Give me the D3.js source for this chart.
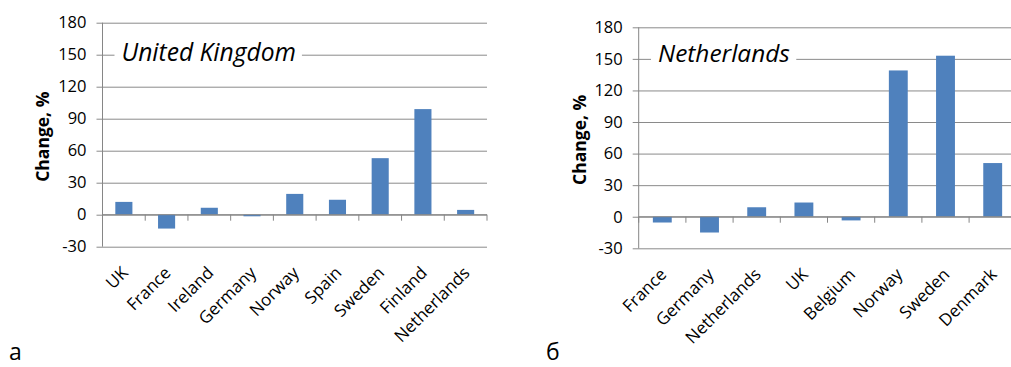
<!DOCTYPE html>
<html>
<head>
<meta charset="utf-8">
<script src="https://cdn.jsdelivr.net/npm/d3@7"></script>
<style>
  html, body { margin: 0; padding: 0; background: #fff; }
  svg { display: block; font-family: "Open Sans", sans-serif; }
</style>
</head>
<body>
<svg id="fig" width="1011" height="367"></svg>
<script>
// Panel a: change by country, United Kingdom
const ukCountries = ["UK", "France", "Ireland", "Germany", "Norway", "Spain", "Sweden", "Finland", "Netherlands"];
const ukChange = [12, -13, 6.5, -1.5, 19.5, 14, 53, 99, 4.5];

// Panel б: change by country, Netherlands
const nlCountries = ["France", "Germany", "Netherlands", "UK", "Belgium", "Norway", "Sweden", "Denmark"];
const nlChange = [-5.5, -15, 9, 13.5, -3.5, 139, 153, 51];

const yTicks = [-30, 0, 30, 60, 90, 120, 150, 180];

const svg = d3.select("#fig");
const GRID = "#8a8a8a";
const AXIS = "#868686";
const BAR = "#4f81bd";

function panel(opts) {
  const { categories, values, left, width, top, bottom, title, titleX, titleBaseline, titleSize, letter, letterX, axisTitleX } = opts;
  const g = svg.append("g");

  const x = d3.scaleBand().domain(categories).range([left, left + width])
    .paddingInner(0.6).paddingOuter(0.3);
  const y = d3.scaleLinear().domain([-30, 180]).range([bottom, top]);

  // horizontal gridlines with short ticks to the left of the axis
  const yAxis = d3.axisLeft(y).tickValues(yTicks).tickFormat(d => String(d))
    .tickSize(-width).tickSizeOuter(0);
  const ya = g.append("g").attr("transform", `translate(${left},0)`).call(yAxis);
  ya.select(".domain").remove();
  ya.selectAll(".tick line").attr("stroke", GRID).attr("stroke-width", 1).attr("x1", -6);
  ya.selectAll(".tick text").attr("fill", "#000").style("font-size", "16.5px")
    .style("font-family", "'Open Sans', sans-serif").attr("x", -16);

  // vertical value axis
  g.append("line").attr("x1", left).attr("x2", left).attr("y1", top).attr("y2", bottom)
    .attr("stroke", AXIS).attr("stroke-width", 1);

  // bars
  g.append("g").selectAll("rect").data(categories).join("rect")
    .attr("x", d => x(d))
    .attr("width", x.bandwidth())
    .attr("y", (d, i) => Math.min(y(values[i]), y(0)))
    .attr("height", (d, i) => Math.abs(y(values[i]) - y(0)))
    .attr("fill", BAR);

  // category axis at zero with tick marks between categories
  const step = x.step();
  g.append("line").attr("x1", left).attr("x2", left + width).attr("y1", y(0)).attr("y2", y(0))
    .attr("stroke", AXIS).attr("stroke-width", 1);
  g.append("g").selectAll("line").data(d3.range(categories.length + 1)).join("line")
    .attr("x1", i => left + i * step).attr("x2", i => left + i * step)
    .attr("y1", y(0)).attr("y2", y(0) + 6)
    .attr("stroke", AXIS).attr("stroke-width", 1);

  // rotated category labels below the plot
  g.append("g").selectAll("text").data(categories).join("text")
    .attr("text-anchor", "end")
    .attr("transform", d => `translate(${x(d) + x.bandwidth() / 2 + 1},${bottom + 23}) rotate(-45)`)
    .attr("dy", "0.35em")
    .style("font-size", "17px")
    .text(d => d);

  // axis title
  g.append("text")
    .attr("transform", `translate(${axisTitleX},${(top + bottom) / 2 + 2}) rotate(-90)`)
    .attr("text-anchor", "middle")
    .attr("dy", "0.35em")
    .style("font-size", "17.5px").style("font-weight", "bold")
    .text("Change, %");

  // panel title on a white box over the 150 gridline
  const tg = g.append("g");
  const box = tg.append("rect").attr("fill", "#fff");
  const tt = tg.append("text").attr("x", titleX).attr("y", titleBaseline)
    .style("font-size", titleSize + "px").style("font-style", "italic")
    .text(title);
  const bb = tt.node().getBBox();
  box.attr("x", bb.x - 7).attr("y", bb.y - 2).attr("width", bb.width + 13).attr("height", bb.height + 4);

  // panel letter
  g.append("text").attr("x", letterX).attr("y", 360)
    .style("font-size", "23px").text(letter);
}

panel({
  categories: ukCountries, values: ukChange,
  left: 102.5, width: 384.5, top: 22.7, bottom: 246.7,
  title: "United Kingdom", titleX: 121.5, titleBaseline: 61, titleSize: 24.6,
  letter: "a", letterX: 9, axisTitleX: 43
});

panel({
  categories: nlCountries, values: nlChange,
  left: 638.7, width: 377.6, top: 27.3, bottom: 248.3,
  title: "Netherlands", titleX: 658, titleBaseline: 62, titleSize: 24.4,
  letter: "б", letterX: 546, axisTitleX: 580
});
</script>
</body>
</html>
